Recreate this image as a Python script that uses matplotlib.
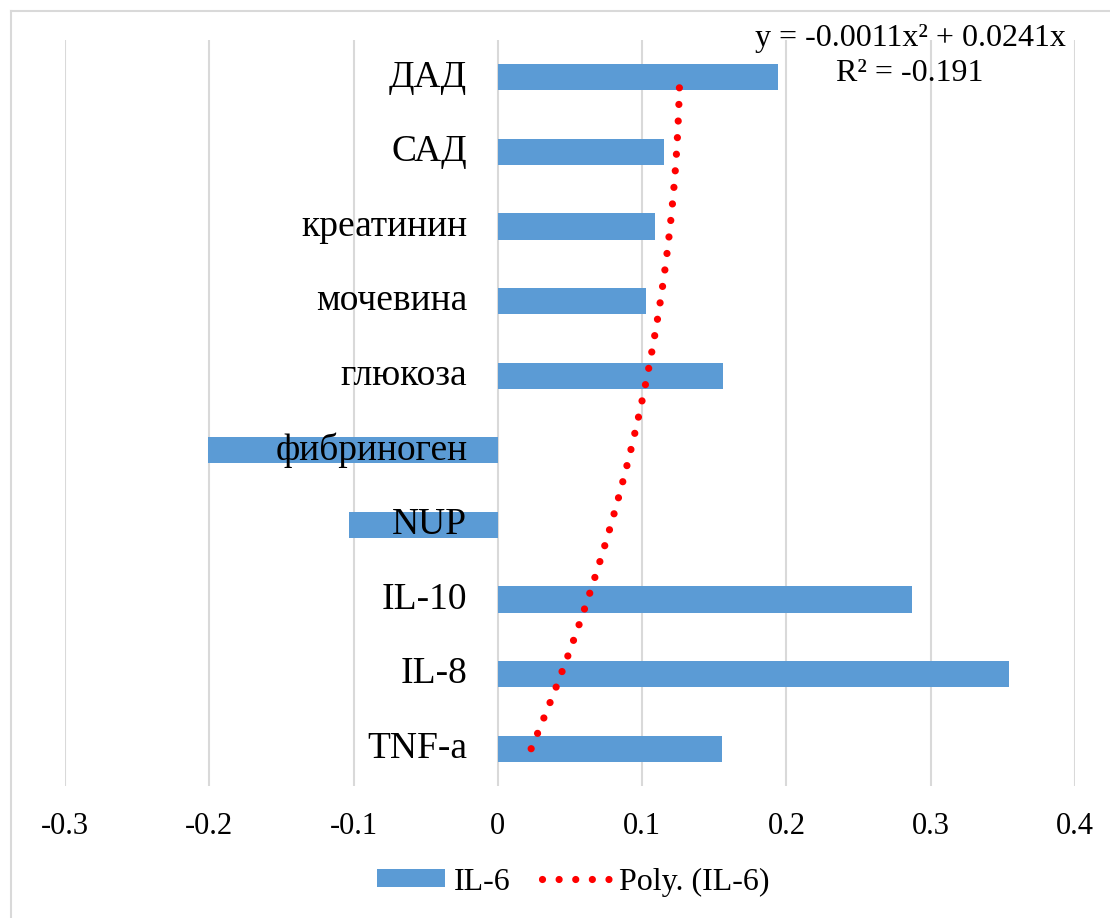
import numpy as np
import matplotlib
matplotlib.use("Agg")
import matplotlib.pyplot as plt
from matplotlib.patches import Patch
from matplotlib.lines import Line2D

# data (bottom to top, as drawn)
categories = ["TNF-a", "IL-8", "IL-10", "NUP", "фибриноген",
              "глюкоза", "мочевина", "креатинин", "САД", "ДАД"]
il6 = [0.155, 0.354, 0.287, -0.103, -0.201, 0.156, 0.103, 0.109, 0.115, 0.194]
xticks = [-0.3, -0.2, -0.1, 0, 0.1, 0.2, 0.3, 0.4]
xtick_labels = ["-0.3", "-0.2", "-0.1", "0", "0.1", "0.2", "0.3", "0.4"]
eq_text = "y = -0.0011x² + 0.0241x\nR² = -0.191"

BAR = "#5b9bd5"
GRID = "#d9d9d9"

plt.rcParams["font.family"] = ["Liberation Serif", "DejaVu Serif"]

fig = plt.figure(figsize=(11.1, 9.18), dpi=100)
ax = fig.add_axes([65 / 1110, 132 / 918, 1010 / 1110, 746 / 918])

pos = np.arange(1, len(categories) + 1)
ax.barh(pos, il6, height=0.35, color=BAR, zorder=2)

# polynomial trendline (order 2, intercept 0) fitted on the data
A = np.column_stack([pos ** 2, pos])
coef, *_ = np.linalg.lstsq(A, np.array(il6), rcond=None)
xs = np.linspace(1, 9.87, 200)
ys = coef[0] * xs ** 2 + coef[1] * xs
ax.plot(ys, xs, color="red", lw=5.2, linestyle=(0, (0.001, 2.3)),
        dash_capstyle="round", zorder=3)

ax.set_xlim(-0.3, 0.4)
ax.set_ylim(0.5, 10.5)
ax.set_xticks(xticks)
ax.set_xticklabels(xtick_labels)
ax.set_yticks([])
ax.tick_params(axis="x", length=0, pad=19, labelsize=22)
ax.xaxis.grid(True, color=GRID, lw=1.5, zorder=0)
ax.set_axisbelow(True)
for s in ax.spines.values():
    s.set_visible(False)

# category labels sit next to the zero line, over the bars
for p, c in zip(pos, categories):
    ax.annotate(c, xy=(0, p), xytext=(-22, 0), textcoords="offset points",
                ha="right", va="center", fontsize=27, zorder=4)

fig.text(910 / 1110, 1 - 56 / 918, eq_text, ha="center", va="center",
         fontsize=23, linespacing=1.28)

handles = [Patch(facecolor=BAR, edgecolor="none"),
           Line2D([], [], color="red", lw=5.2, linestyle=(0, (0.001, 2.3)),
                  dash_capstyle="round")]
fig.legend(handles, ["IL-6", "Poly. (IL-6)"], loc="center",
           bbox_to_anchor=(573 / 1110, 1 - 882 / 918), ncol=2, frameon=False,
           fontsize=23, handlelength=2.15, handleheight=0.5,
           handletextpad=0.25, columnspacing=1.0)

# chart border (left and top visible)
fig.add_artist(Line2D([10.5 / 1110, 10.5 / 1110], [0, 1 - 10.5 / 918],
                      color=GRID, lw=1.5))
fig.add_artist(Line2D([10.5 / 1110, 1], [1 - 10.5 / 918, 1 - 10.5 / 918],
                      color=GRID, lw=1.5))

fig.savefig("out.png", dpi=100)
